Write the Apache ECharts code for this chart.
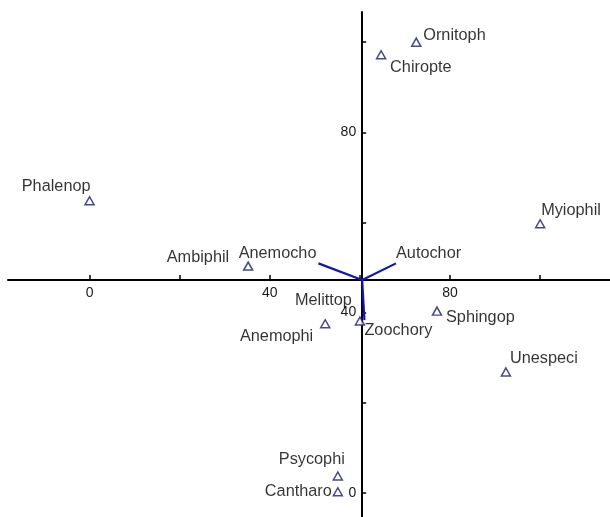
<!DOCTYPE html>
<html>
<head>
<meta charset="utf-8">
<script src="https://cdn.jsdelivr.net/npm/echarts@6/dist/echarts.min.js"></script>
<style>
html,body{margin:0;padding:0;background:#fff;}
#chart{width:610px;height:517px;}
</style>
</head>
<body>
<div id="chart"></div>
<script>
// ---- data ----
const pointNames = ['Ornitoph','Chiropte','Phalenop','Myiophil','Ambiphil','Melittop','Anemophi','Sphingop','Unespeci','Psycophi','Cantharo'];
const pointX = [72.5, 64.7, 0.0, 100.0, 35.2, 60.0, 52.3, 77.1, 92.4, 55.1, 55.1];
const pointY = [100.0, 97.2, 64.8, 59.7, 50.3, 38.1, 37.5, 40.3, 26.8, 3.7, 0.2];
const vectorNames = ['Anemocho','Autochor','Zoochory'];
const vectorX = [50.8, 68.0, 61.0];
const vectorY = [50.9, 50.9, 38.3];
const originX = 60.5;
const originY = 47.2;
const xTicks = [0, 20, 40, 60, 80, 100];
const xTickLabels = [0, 40, 80];
const yTicks = [0, 20, 40, 60, 80, 100];
const yTickLabels = [0, 40, 80];

// ---- layout / style ----
const xMin = -18.1, xMax = 115.5, yMin = -5.4, yMax = 106.7;
const grid = {left: 8, top: 12, right: 0, bottom: 0};
const W = 610, H = 517;
const gw = W - grid.left - grid.right, gh = H - grid.top - grid.bottom;
const xAxisOffset = -gh * (originY - yMin) / (yMax - yMin);
const yAxisOffset = -gw * (originX - xMin) / (xMax - xMin);

// label placement per point: [align, dx, dy]
const pointLabelPos = {
  Ornitoph: ['left', 7, -7],
  Chiropte: ['left', 9, 13],
  Phalenop: ['right', 1, -14],
  Myiophil: ['left', 1, -13],
  Ambiphil: ['right', -19, -9],
  Melittop: ['right', -8, -21],
  Anemophi: ['right', -12, 13],
  Sphingop: ['left', 9, 6],
  Unespeci: ['left', 4, -13],
  Psycophi: ['right', 7, -16],
  Cantharo: ['right', -6, 0]
};
const vectorLabelPos = {
  Anemocho: ['right', -2, -10],
  Autochor: ['left', 0, -10],
  Zoochory: ['left', 0, 10]
};
const labelFont = {fontFamily: '"Liberation Sans", Arial, sans-serif', fontSize: 16.3, color: '#000'};

function mkLabel(n, p) {
  return Object.assign({show: true, position: 'inside', formatter: n, align: p[0], verticalAlign: 'middle', offset: [p[1], p[2]]}, labelFont);
}

const scatterData = pointNames.map((n, i) => ({
  name: n,
  value: [pointX[i], pointY[i]],
  label: mkLabel(n, pointLabelPos[n])
}));

const vectorSeries = vectorNames.map((n, i) => ({
  type: 'line',
  silent: true,
  symbol: 'none',
  lineStyle: {color: '#1414b0', width: 2.2},
  data: [[originX, originY], [vectorX[i], vectorY[i]]],
  z: 3
}));

const vectorLabelSeries = {
  type: 'scatter',
  silent: true,
  symbol: 'circle',
  symbolSize: 1,
  itemStyle: {color: 'rgba(0,0,0,0)'},
  data: vectorNames.map((n, i) => ({name: n, value: [vectorX[i], vectorY[i]], label: mkLabel(n, vectorLabelPos[n])})),
  z: 5
};

const tickFont = {fontFamily: '"Liberation Sans", Arial, sans-serif', fontSize: 14, color: '#1a1a1a'};

const chart = echarts.init(document.getElementById('chart'), null, {renderer: 'canvas'});
chart.setOption({
  animation: false,
  backgroundColor: '#fff',
  grid: grid,
  xAxis: {
    type: 'value', min: xMin, max: xMax, position: 'bottom', offset: xAxisOffset,
    splitLine: {show: false},
    axisLine: {show: true, onZero: false, lineStyle: {color: '#000', width: 2}},
    axisTick: {show: true, inside: true, length: 5, customValues: xTicks, lineStyle: {color: '#000', width: 1.5}},
    axisLabel: Object.assign({show: true, margin: 6, customValues: xTickLabels}, tickFont)
  },
  yAxis: {
    type: 'value', min: yMin, max: yMax, position: 'left', offset: yAxisOffset,
    splitLine: {show: false},
    axisLine: {show: true, onZero: false, lineStyle: {color: '#000', width: 2}},
    axisTick: {show: true, inside: true, length: 4, customValues: yTicks, lineStyle: {color: '#000', width: 1.5}},
    axisLabel: Object.assign({show: true, margin: 6, customValues: yTickLabels}, tickFont)
  },
  series: [
    ...vectorSeries,
    {
      type: 'scatter',
      silent: true,
      symbol: 'triangle',
      symbolSize: [9, 8],
      itemStyle: {color: '#fff', borderColor: '#1c1c72', borderWidth: 1.5},
      data: scatterData,
      z: 4
    },
    vectorLabelSeries
  ]
});
</script>
</body>
</html>
